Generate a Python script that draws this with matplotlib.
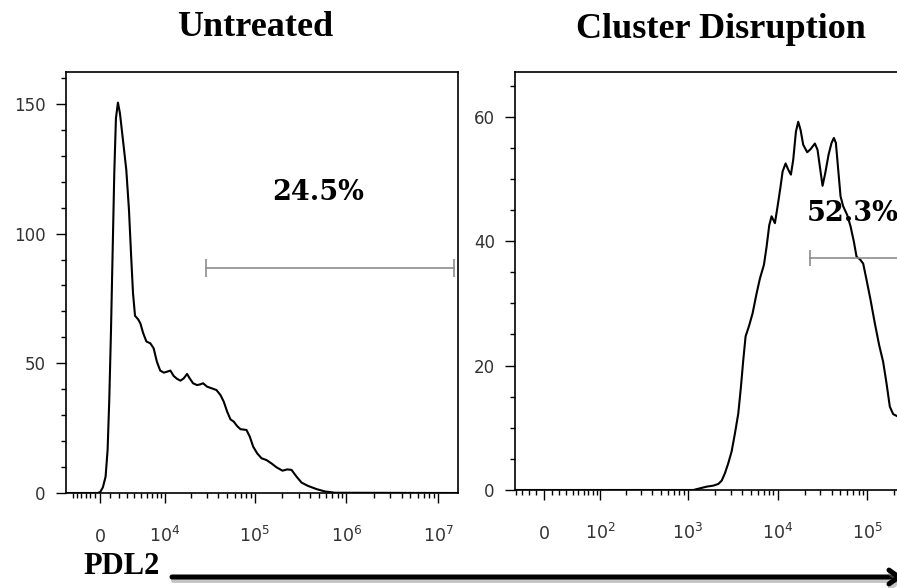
import matplotlib
matplotlib.use("Agg")
import matplotlib.pyplot as plt
import matplotlib.patheffects as pe
from matplotlib.patches import FancyArrowPatch

# histogram values (intensity, event count)
untreated_x = [-3900, -205, 41, 308, 587, 796, 971, 1147, 1326, 1508, 1691, 1915, 2144, 2499,
               2910, 3255, 3569, 3802, 4090, 4540, 4905, 5342, 5929, 6676, 7345, 8057, 8834,
               9766, 10745, 11653, 12716, 13897, 15149, 16532, 18009, 19266, 21008, 23272,
               25341, 27116, 30012, 33509, 38034, 42065, 45778, 49817, 54142, 58915, 64097,
               69727, 81110, 88210, 95921, 106080, 118320, 134150, 152140, 172580, 200740,
               225620, 251740, 285480, 323790, 383000, 472060, 582220, 749090, 16000000]
untreated_count = [0, 0, 0.4, 2.2, 6.3, 16.6, 35.9, 61.6, 92.4, 123.3, 144.5, 150.5, 146.4, 136.1,
                   124.6, 109.1, 89.9, 77.0, 68.3, 67.0, 65.4, 61.8, 58.4, 57.7, 55.8, 50.6, 47.2,
                   46.4, 46.8, 47.2, 45.1, 44.0, 43.3, 44.2, 45.9, 44.2, 42.3, 41.6,
                   41.9, 42.3, 41.0, 40.4, 39.7, 37.8, 35.2, 31.4, 28.4, 27.5, 25.8,
                   24.6, 24.3, 21.7, 17.9, 15.3, 13.4, 12.7, 11.4, 9.9, 8.6,
                   9.1, 8.9, 6.3, 4.0, 2.7, 1.5, 0.6, 0.1, 0]

disrupted_x = [-41, 1150, 1364, 1619, 1921, 2184, 2380, 2590, 2820, 3074, 3347, 3647, 3905, 4145,
               4400, 4835, 5265, 5835, 6355, 7045, 7540, 8080, 8575, 9340, 10000, 10800, 11375,
               12285, 13150, 14075, 14945, 16010, 16985, 18035, 19305, 21400, 23325, 26050,
               27885, 29600, 31700, 33950, 37000, 39950, 42425, 44650, 47400, 50350, 53900,
               59750, 65050, 70900, 75900, 82650, 90000, 98050, 108600, 121350, 135550,
               150250, 163600, 178300, 194200, 213300]
disrupted_count = [0, 0, 0.27, 0.54, 0.7, 0.97, 1.5, 2.7, 4.3, 6.2, 9.1, 12.3, 16.6, 20.9,
                   24.7, 26.5, 28.4, 31.6, 34.0, 36.2, 39.1, 42.6, 44.0, 42.9, 45.6, 48.8, 51.2,
                   52.5, 51.5, 50.7, 53.1, 57.6, 59.2, 57.9, 55.5, 54.3, 54.8, 55.7,
                   54.7, 52.0, 48.9, 50.9, 53.9, 55.8, 56.6, 55.8, 51.5, 47.2, 45.6,
                   44.2, 42.4, 39.9, 37.5, 37.1, 36.4, 33.8, 30.6, 26.8, 23.3,
                   20.6, 17.2, 13.4, 12.2, 11.9]

# gates and their percentages
untreated_gate_x = [29000, 15000000]
untreated_gate_y = 86.8
untreated_pct = "24.5%"
disrupted_gate_x = [22900, 1000000]
disrupted_gate_y = 37.3
disrupted_pct = "52.3%"

titles = ["Untreated", "Cluster Disruption"]
marker_name = "PDL2"

# axis ticks
left_xmajor = [0, 1e4, 1e5, 1e6, 1e7]
left_xlabels = ["0", "$10^4$", "$10^5$", "$10^6$", "$10^7$"]
left_xminor = ([-3000, -2500, -2000, -1500, -1000, -500]
               + [k * 10 ** e for e in (3, 4, 5, 6) for k in range(1, 10)])
left_ymajor = [0, 50, 100, 150]
left_yminor = list(range(0, 161, 10))

right_xmajor = [0, 1e2, 1e3, 1e4, 1e5]
right_xlabels = ["0", "$10^2$", "$10^3$", "$10^4$", "$10^5$"]
right_xminor = ([-40, -30, -20, -10]
                + [k * 10 ** e for e in (1, 2, 3, 4, 5) for k in range(1, 10)])
right_ymajor = [0, 20, 40, 60]
right_yminor = list(range(0, 66, 5))

W, H = 897, 588
fig = plt.figure(figsize=(W / 100, H / 100), dpi=100)


def box(l, t, r, b):
    return [l / W, 1 - b / H, (r - l) / W, (b - t) / H]


def style(ax, lw, xlim, ylim, xmaj, xlab, xmin, ymaj, ymin):
    ax.set_xscale('asinh', linear_width=lw)
    ax.set_xlim(*xlim)
    ax.set_ylim(*ylim)
    ax.set_xticks(xmaj)
    ax.set_xticklabels(xlab)
    ax.set_xticks(xmin, minor=True)
    ax.set_yticks(ymaj)
    ax.set_yticks(ymin, minor=True)
    ax.tick_params(which='major', length=7.5, width=1, color='black',
                   labelsize=12, labelcolor='#333333')
    ax.tick_params(which='minor', length=3.6, width=1, color='black')
    ax.tick_params(axis='x', which='major', pad=28, labelsize=12.5)
    ax.tick_params(axis='y', which='major', pad=7)
    for lab in ax.get_xticklabels():
        lab.set_verticalalignment('baseline')
    for s in ax.spines.values():
        s.set_linewidth(1.2)


ax1 = fig.add_axes(box(65.5, 72, 458, 493))
ax2 = fig.add_axes(box(515, 72, 957, 490))

style(ax1, 4080, (-3980, 1.65e7), (0, 162.3), left_xmajor, left_xlabels, left_xminor,
      left_ymajor, left_yminor)
style(ax2, 50, (-41, 1e6), (0, 67.2), right_xmajor, right_xlabels, right_xminor,
      right_ymajor, right_yminor)

ax1.plot(untreated_x, untreated_count, color='black', lw=1.5)
ax2.plot(disrupted_x, disrupted_count, color='black', lw=1.5)

# gates
gray = '#8c8c8c'
ax1.plot(untreated_gate_x, [untreated_gate_y] * 2, color=gray, lw=1.2,
         marker='|', markersize=13, markeredgewidth=1.2)
ax2.plot(disrupted_gate_x, [disrupted_gate_y] * 2, color=gray, lw=1.2)
ax2.plot(disrupted_gate_x[:1], [disrupted_gate_y], color=gray, marker='|',
         markersize=12, markeredgewidth=1.2)

pct_font = dict(fontsize=19.5, fontweight='bold', family='DejaVu Serif', color='black')
ax1.text(494500, 115.9, untreated_pct, ha='center', va='center', **pct_font)
ax2.text(21240, 44.4, disrupted_pct, ha='left', va='center', **pct_font)

title_font = dict(fontsize=26, fontweight='bold', family='Liberation Serif')
fig.text(255 / W, 1 - 27 / H, titles[0], ha='center', va='center', **title_font)
fig.text(866 / W, 1 - 30 / H, titles[1], ha='right', va='center', **title_font)

fig.text(83 / W, 1 - 566 / H, marker_name, ha='left', va='center', fontsize=22,
         fontweight='bold', family='Liberation Serif')

arrow = FancyArrowPatch((172 / W, 1 - 577 / H), (903 / W, 1 - 577 / H),
                        transform=fig.transFigure,
                        arrowstyle='->,head_length=7,head_width=5',
                        color='black', lw=3.6, shrinkA=0, shrinkB=0,
                        path_effects=[pe.SimpleLineShadow(offset=(1, -2.5), shadow_color='gray', alpha=0.45),
                                      pe.Normal()])
fig.add_artist(arrow)

fig.savefig("out.png", dpi=100)
